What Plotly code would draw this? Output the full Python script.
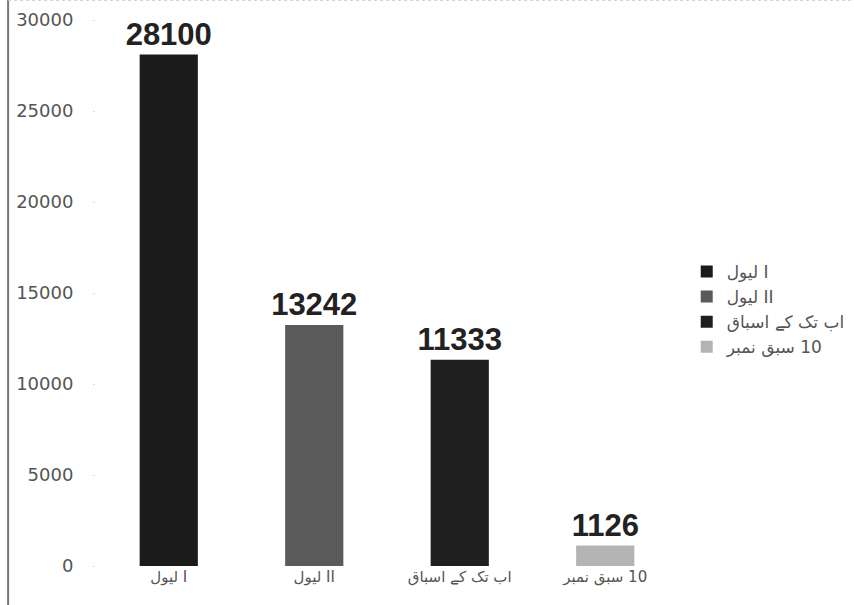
import plotly.graph_objects as go

LRM = "\u200e"
categories = ["لیول I", "لیول II", "اب تک کے اسباق", "سبق نمبر" + LRM + " 10"]
values = [28100, 13242, 11333, 1126]
colors = ["#1b1b1b", "#5a5a5a", "#1f1f1f", "#b4b4b4"]
y_ticks = [0, 5000, 10000, 15000, 20000, 25000, 30000]

labels = [LRM + c for c in categories]

fig = go.Figure()
for lab, val, col in zip(labels, values, colors):
    fig.add_trace(go.Bar(
        x=[lab], y=[val], name=lab,
        marker=dict(color=col, line=dict(width=0)),
        width=0.4,
        text=[str(val)], textposition="outside",
        constraintext="none",
        textfont=dict(family="Liberation Sans", size=31, color="#222222", weight="bold"),
        cliponaxis=False,
    ))

fig.update_layout(
    width=854, height=605,
    margin=dict(l=96, r=176, t=20, b=39, autoexpand=False),
    paper_bgcolor="white", plot_bgcolor="white",
    barmode="overlay",
    showlegend=True,
    legend=dict(
        x=1.015, xanchor="left", y=0.47, yanchor="middle",
        font=dict(family="DejaVu Sans", size=17, color="#555555"),
        bgcolor="rgba(0,0,0,0)",
    ),
    xaxis=dict(
        categoryorder="array", categoryarray=labels,
        showline=False, showgrid=False, ticks="",
        tickfont=dict(family="DejaVu Sans", size=15, color="#555555"),
    ),
    yaxis=dict(
        range=[0, 30000], tickvals=y_ticks,
        ticktext=[str(v) for v in y_ticks],
        showgrid=False, zeroline=False, showline=False,
        ticks="outside", ticklen=2, tickcolor="#dddddd",
        ticklabelstandoff=16,
        tickfont=dict(family="DejaVu Sans", size=18, color="#555555"),
    ),
    font=dict(family="DejaVu Sans"),
)

# page frame: left edge line and faint top edge
fig.add_shape(type="line", xref="paper", yref="paper",
              x0=-0.151, x1=-0.151, y0=-0.08, y1=1.04,
              line=dict(color="#777777", width=2))
fig.add_shape(type="line", xref="paper", yref="paper",
              x0=-0.151, x1=1.31, y0=1.036, y1=1.036,
              line=dict(color="#cccccc", width=1, dash="dot"))

fig.write_html("out.html")
